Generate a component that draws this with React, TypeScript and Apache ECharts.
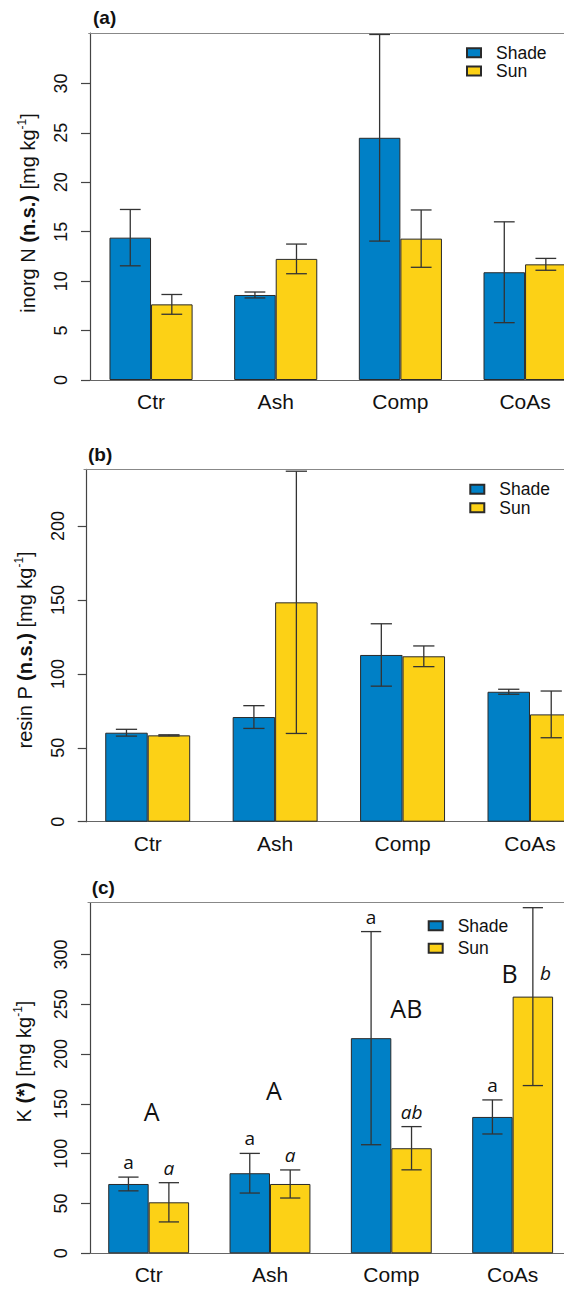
import React, { useEffect, useRef } from "react";
import * as echarts from "echarts";

// ---------- data ----------
const categories = ["Ctr", "Ash", "Comp", "CoAs"];

// (a) inorganic N
const nShade = [14.4, 8.6, 24.5, 10.9];
const nShadeErr = [2.85, 0.3, 10.45, 5.1];
const nSun = [7.65, 12.25, 14.3, 11.7];
const nSunErr = [1.0, 1.5, 2.9, 0.6];
const nTicks = [0, 5, 10, 15, 20, 25, 30];
const nMax = 35.1;

// (b) resin P
const pShade = [60.2, 70.8, 112.8, 87.9];
const pShadeErr = [2.3, 7.7, 21.1, 1.7];
const pSun = [58.4, 148.4, 111.9, 72.6];
const pSunErr = [0.4, 88.7, 7.0, 15.8];
const pTicks = [0, 50, 100, 150, 200];
const pMax = 238.4;

// (c) K
const kShade = [69.6, 80.4, 216, 136.9];
const kShadeErr = [6.9, 19.9, 107, 17.1];
const kSun = [51.2, 69.6, 105.5, 257.7];
const kSunErr = [19.7, 14.1, 21.7, 89.3];
const kTicks = [0, 50, 100, 150, 200, 250, 300];
const kMax = 352;
const kShadeLetters = ["a", "a", "a", "a"];
const kSunLetters = ["a", "a", "ab", "b"];
const kGroupLetters = ["A", "A", "AB", "B"];
const kGroupLetterY = [143, 164, 246, 281];
const kSunLetterBesideY = [null, null, null, 281];

// ---------- styling ----------
const FONT = '"Liberation Sans", Arial, Helvetica, sans-serif';
const LFONT = '"Open Sans", "Noto Sans", sans-serif';
const BLUE = "#0080C6";
const YELLOW = "#FCD116";
const INK = "#111";
const ERR = "#333";
const groupLetterDx = [3, 4, 15, -3];

const panels = [
  {
    label: "(a)",
    name: "inorg N {b|(n.s.)} [mg kg{sup|-1}]",
    shade: nShade, shadeErr: nShadeErr, sun: nSun, sunErr: nSunErr,
    max: nMax, ticks: nTicks,
    grid: { left: 88.7, top: 33, width: 498.7, height: 347 },
    axisOffset: -1.3, nameGap: 50, namePad: [0, 13, 0, 0],
    labelPos: { left: 93, top: 8 },
    legendPos: { left: 466, top: 43.7 }, legendGap: 0.3,
  },
  {
    label: "(b)",
    name: "resin P {b|(n.s.)} [mg kg{sup|-1}]",
    shade: pShade, shadeErr: pShadeErr, sun: pSun, sunErr: pSunErr,
    max: pMax, ticks: pTicks,
    grid: { left: 84, top: 469.3, width: 509.7, height: 352.4 },
    axisOffset: -2.7, nameGap: 50, namePad: [0, 9, 0, 0],
    labelPos: { left: 88, top: 444.5 },
    legendPos: { left: 469.3, top: 480.2 }, legendGap: 0.6,
  },
  {
    label: "(c)",
    name: "K {b|(*)} [mg kg{sup|-1}]",
    shade: kShade, shadeErr: kShadeErr, sun: kSun, sunErr: kSunErr,
    max: kMax, ticks: kTicks,
    grid: { left: 88, top: 902.7, width: 485.3, height: 350.6 },
    axisOffset: -2, nameGap: 54.5, namePad: [0, 0, 0, 33],
    labelPos: { left: 91.7, top: 878 },
    legendPos: { left: 427.7, top: 916.8 }, legendGap: 4.4,
  },
];

function errSeries(
  pi: number,
  side: number,
  means: number[],
  errs: number[],
  letters?: string[],
  italic?: boolean,
  besideY?: (number | null)[]
) {
  return {
    type: "custom",
    xAxisIndex: pi * 2,
    yAxisIndex: pi,
    z: 5,
    silent: true,
    clip: false,
    data: means.map((m, j) => [j, m - errs[j], m + errs[j]]),
    renderItem: (params: any, api: any) => {
      const j = api.value(0);
      const lo = api.coord([j, api.value(1)]);
      const hi = api.coord([j, api.value(2)]);
      const band = api.size([1, 0])[0];
      const unit = band / 3;
      const cx = lo[0] + (side * unit) / 2;
      const half = unit / 4;
      const ls = { stroke: ERR, lineWidth: 1.3 };
      const children: any[] = [
        { type: "line", shape: { x1: cx, y1: hi[1], x2: cx, y2: lo[1] }, style: ls },
        { type: "line", shape: { x1: cx - half, y1: hi[1], x2: cx + half, y2: hi[1] }, style: ls },
        { type: "line", shape: { x1: cx - half, y1: lo[1], x2: cx + half, y2: lo[1] }, style: ls },
      ];
      if (letters) {
        const idx = params.dataIndex;
        let tx = cx;
        let ty = hi[1] - 15;
        const by = besideY ? besideY[idx] : null;
        if (by != null) {
          tx = cx + 12.7;
          ty = api.coord([j, by])[1];
        }
        children.push({
          type: "text",
          x: tx,
          y: ty,
          style: {
            text: letters[idx],
            fill: INK,
            fontSize: 19,
            fontFamily: LFONT,
            fontStyle: italic ? "italic" : "normal",
            align: "center",
            verticalAlign: "middle",
            textAlign: "center",
            textVerticalAlign: "middle",
          },
        });
      }
      return { type: "group", children };
    },
  };
}

function buildOption() {
  const grid: any[] = [];
  const xAxis: any[] = [];
  const yAxis: any[] = [];
  const series: any[] = [];
  const legend: any[] = [];
  const title: any[] = [];

  panels.forEach((p, i) => {
    grid.push({ ...p.grid, outerBoundsMode: "none", containLabel: false });
    xAxis.push({
      type: "category",
      gridIndex: i,
      position: "bottom",
      data: categories,
      axisLine: { show: true, lineStyle: { color: "#666", width: 1.2 } },
      axisTick: { show: false },
      axisLabel: { show: true, color: INK, fontSize: 21, fontFamily: FONT, margin: 11 },
      splitLine: { show: false },
    });
    xAxis.push({
      type: "category",
      gridIndex: i,
      position: "top",
      data: categories,
      axisLine: { show: true, lineStyle: { color: "#888", width: 1.2 } },
      axisTick: { show: false },
      axisLabel: { show: false },
      splitLine: { show: false },
    });
    yAxis.push({
      type: "value",
      gridIndex: i,
      min: 0,
      max: p.max,
      offset: p.axisOffset,
      axisLine: { show: true, lineStyle: { color: "#444", width: 1.2 } },
      axisTick: {
        show: true,
        inside: false,
        length: 9,
        lineStyle: { color: "#444", width: 1.2 },
        customValues: p.ticks,
      },
      axisLabel: {
        show: true,
        rotate: 90,
        margin: 20,
        color: INK,
        fontSize: 18,
        fontFamily: FONT,
        customValues: p.ticks,
      },
      splitLine: { show: false },
      name: p.name,
      nameLocation: "middle",
      nameGap: p.nameGap,
      nameTextStyle: {
        color: INK,
        fontSize: 20,
        fontFamily: FONT,
        lineHeight: 24,
        padding: p.namePad,
        rich: {
          b: { fontSize: 20, fontWeight: "bold", fontFamily: FONT, color: INK, lineHeight: 24 },
          sup: { fontSize: 12, fontFamily: FONT, color: INK, verticalAlign: "top", lineHeight: 24 },
        },
      },
    });
    series.push({
      type: "bar",
      name: "Shade",
      xAxisIndex: i * 2,
      yAxisIndex: i,
      data: p.shade,
      barGap: "0%",
      barCategoryGap: "33.333%",
      itemStyle: { color: BLUE, borderColor: "#2a2a2a", borderWidth: 1 },
      silent: true,
    });
    series.push({
      type: "bar",
      name: "Sun",
      xAxisIndex: i * 2,
      yAxisIndex: i,
      data: p.sun,
      barGap: "0%",
      barCategoryGap: "33.333%",
      itemStyle: { color: YELLOW, borderColor: "#2a2a2a", borderWidth: 1 },
      silent: true,
    });
    const isK = i === 2;
    series.push(errSeries(i, -1, p.shade, p.shadeErr, isK ? kShadeLetters : undefined, false));
    series.push(
      errSeries(i, 1, p.sun, p.sunErr, isK ? kSunLetters : undefined, true, isK ? kSunLetterBesideY : undefined)
    );
    legend.push({
      data: ["Shade", "Sun"],
      orient: "vertical",
      left: p.legendPos.left,
      top: p.legendPos.top,
      padding: 0,
      itemGap: p.legendGap,
      itemWidth: 14,
      itemHeight: 9,
      icon: "rect",
      selectedMode: false,
      textStyle: { color: INK, fontSize: 17.5, fontFamily: FONT, lineHeight: 17, padding: [0, 0, 0, 10] },
    });
    title.push({
      text: p.label,
      left: p.labelPos.left,
      top: p.labelPos.top,
      padding: 0,
      textStyle: { color: INK, fontSize: 19, fontWeight: "bold", fontFamily: FONT },
    });
  });

  // group letters for panel (c)
  series.push({
    type: "custom",
    xAxisIndex: 4,
    yAxisIndex: 2,
    z: 6,
    silent: true,
    clip: false,
    data: kGroupLetterY.map((v, j) => [j, v]),
    renderItem: (params: any, api: any) => {
      const idx = params.dataIndex;
      const pt = api.coord([api.value(0), api.value(1)]);
      return {
        type: "text",
        x: pt[0] + groupLetterDx[idx],
        y: pt[1],
        style: {
          text: kGroupLetters[idx],
          fill: INK,
          fontSize: 25,
          fontFamily: LFONT,
          align: "center",
          verticalAlign: "middle",
          textAlign: "center",
          textVerticalAlign: "middle",
        },
      };
    },
  });

  return {
    animation: false,
    backgroundColor: "#fff",
    textStyle: { fontFamily: FONT },
    title,
    legend,
    grid,
    xAxis,
    yAxis,
    series,
  };
}

export default function App() {
  const ref = useRef<HTMLDivElement>(null);
  useEffect(() => {
    if (!ref.current) return;
    const chart = echarts.init(ref.current, null, { renderer: "svg" });
    chart.setOption(buildOption() as any);
    return () => chart.dispose();
  }, []);
  return (
    <div
      ref={ref}
      style={{ position: "absolute", left: 0, top: 0, width: 564, height: 1292, background: "#fff" }}
    />
  );
}
